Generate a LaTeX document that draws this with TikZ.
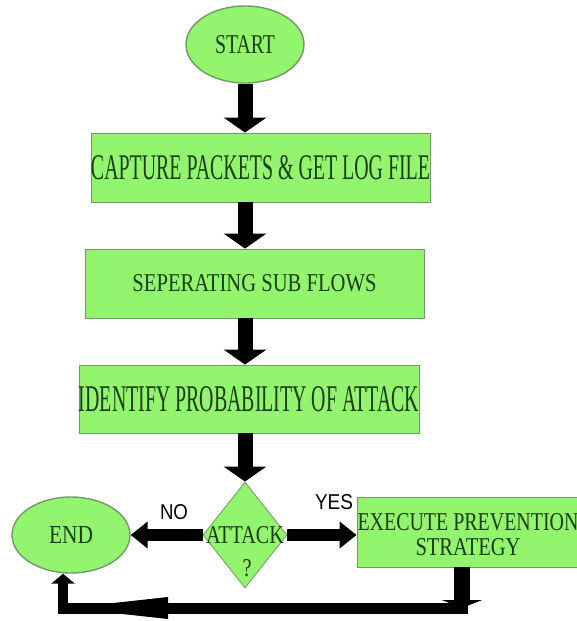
\documentclass[tikz,border=0pt]{standalone}
\usepackage{fontspec}
\setmainfont{Liberation Serif}
\newfontfamily\labelfont{Liberation Sans}
\usepackage{graphicx}
\usetikzlibrary{arrows.meta, shapes.geometric}

\definecolor{boxgreen}{HTML}{93F46E}
\definecolor{edgegreen}{HTML}{6F9966}
\definecolor{inkgreen}{HTML}{1B3D12}

% squeeze a caption to a given width and cap height (in pt)
\newcommand{\fitto}[3]{\resizebox{#1pt}{#2pt}{#3}}

\begin{document}
\begin{tikzpicture}[x=1pt, y=-1pt,
  every node/.style={text=inkgreen, inner sep=0pt},
  terminal/.style={ellipse, draw=edgegreen, line width=1.4pt, fill=boxgreen, minimum width=118pt, minimum height=77pt},
  process/.style={rectangle, draw=edgegreen, line width=0.8pt, fill=boxgreen, minimum width=339pt, minimum height=69pt},
  decision/.style={diamond, draw=edgegreen, line width=0.8pt, fill=boxgreen, minimum width=84pt, minimum height=106pt},
  flow/.style={line width=15pt, -{Triangle[width=42pt, length=15pt]}},
  branch/.style={line width=12pt, -{Triangle[width=26pt, length=17pt]}},
  answer/.style={text=black, font=\labelfont}]
  \useasboundingbox (0,0) rectangle (577,621);

  % main column
  \node[terminal] (start) at (245,44.5) {\fitto{60}{18}{START}};
  \node[process] (capture) at (260.5,167.5) {\fitto{339}{24}{CAPTURE PACKETS \& GET LOG FILE}};
  \node[process] (separate) at (254.5,283.5) {\fitto{244}{17}{SEPERATING SUB FLOWS}};
  \node[process, minimum height=68pt] (identify) at (249,399) {\fitto{340}{25}{IDENTIFY PROBABILITY OF ATTACK}};

  \draw[flow] (start) -- (start |- capture.north);
  \draw[flow] (capture.south -| start) -- (separate.north -| start);
  \draw[flow] (separate.south -| start) -- (identify.north -| start);

  % decision
  \node[decision] (attack) at (245,535) {};
  \node (attacktext) at (attack) {\fitto{78}{17}{ATTACK}};
  \node (attackmark) at (247,568) {\fitto{9}{17}{?}};
  \draw[flow] (identify.south -| attack) -- (attack);

  % NO branch
  \node[terminal, minimum height=76pt] (finish) at (71,535) {\fitto{44}{17}{END}};
  \draw[branch] (attack) -- (finish);
  \node[answer] (no) at (174,512) {\fitto{28}{15}{NO}};

  % YES branch
  \node[process, minimum width=233pt, minimum height=70pt] (execute) at (473.5,532) {};
  \node[align=center, font=\fontsize{17}{25}\selectfont] (executetext) at (468,534.5)
    {\fitto{221}{17}{EXECUTE PREVENTION}\\\fitto{105}{17}{STRATEGY}};
  \draw[branch] (attack.east) -- (attack.east -| execute.west);
  \node[answer] (yes) at (334,502) {\fitto{38}{15}{YES}};

  % back round to END
  \coordinate (corner) at (462,608);
  \coordinate (foot) at (63,608);
  \draw[line width=16pt, -{Triangle[width=40pt, length=8pt]}] (execute.south -| corner) -- (corner);
  \draw[line width=10pt, -{Triangle[width=23pt, length=10pt]}] ([yshift=-5pt]foot) -- (finish.south -| foot);
  \draw[line width=11pt, line cap=rect] (corner) -- (foot);
  \fill ([xshift=5pt]foot) -- ([xshift=105pt, yshift=11pt]foot) -- ([xshift=105pt, yshift=-11pt]foot) -- cycle;
\end{tikzpicture}
\end{document}
